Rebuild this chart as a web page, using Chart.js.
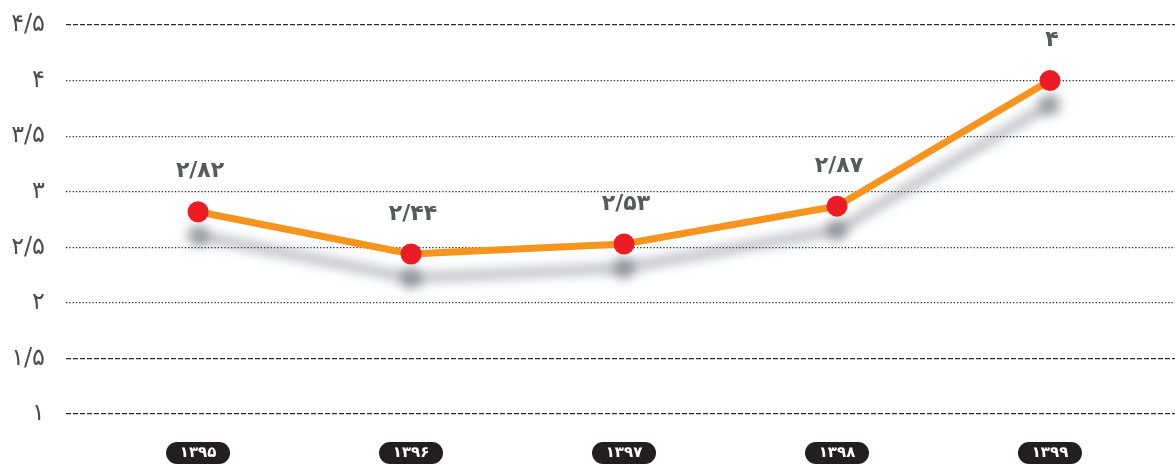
<!DOCTYPE html>
<html>
<head>
<meta charset="utf-8">
<script src="https://cdn.jsdelivr.net/npm/chart.js@4/dist/chart.umd.min.js"></script>
<style>
  html, body { margin: 0; padding: 0; background: #ffffff; overflow: hidden; }
  #wrap { width: 1175px; height: 464px; position: relative; overflow: hidden; }
  canvas { display: block; }
</style>
</head>
<body>
<div id="wrap"><canvas id="c"></canvas></div>
<script>
const years = ['۱۳۹۵', '۱۳۹۶', '۱۳۹۷', '۱۳۹۸', '۱۳۹۹'];
const values = [2.82, 2.44, 2.53, 2.87, 4];
const valueLabels = ['۲/۸۲', '۲/۴۴', '۲/۵۳', '۲/۸۷', '۴'];
const yTicks = [1, 1.5, 2, 2.5, 3, 3.5, 4, 4.5];
const yTickLabels = ['۱', '۱/۵', '۲', '۲/۵', '۳', '۳/۵', '۴', '۴/۵'];
const dashedTicks = [1, 1.5, 4.5];

const FONT = "'DejaVu Sans', sans-serif";

const shadowPlugin = {
  id: 'shadow',
  beforeDatasetDraw(chart) {
    const ctx = chart.ctx;
    ctx.save();
    ctx.shadowColor = 'rgba(80, 90, 100, 0.55)';
    ctx.shadowBlur = 12;
    ctx.shadowOffsetX = 0;
    ctx.shadowOffsetY = 24;
  },
  afterDatasetDraw(chart) {
    chart.ctx.restore();
  }
};

const pillPlugin = {
  id: 'pills',
  beforeDraw(chart) {
    const ctx = chart.ctx;
    const xs = chart.scales.x;
    const cy = chart.chartArea.bottom + 39;
    const w = 64, h = 22, r = 11;
    ctx.save();
    ctx.fillStyle = '#231f20';
    years.forEach((_, i) => {
      const cx = xs.getPixelForValue(i);
      ctx.beginPath();
      ctx.roundRect(cx - w / 2, cy - h / 2, w, h, r);
      ctx.fill();
    });
    ctx.restore();
  }
};

const labelPlugin = {
  id: 'valueLabels',
  afterDatasetsDraw(chart) {
    const ctx = chart.ctx;
    const meta = chart.getDatasetMeta(0);
    ctx.save();
    ctx.font = 'bold 22px ' + FONT;
    ctx.fillStyle = '#58595b';
    ctx.textAlign = 'center';
    ctx.textBaseline = 'middle';
    meta.data.forEach((pt, i) => {
      ctx.fillText(valueLabels[i], pt.x + 2, pt.y - 40);
    });
    ctx.restore();
  }
};

new Chart(document.getElementById('c'), {
  type: 'line',
  data: {
    datasets: [{
      data: values.map((v, i) => ({ x: i, y: v })),
      borderColor: '#f7941d',
      borderWidth: 7,
      pointBackgroundColor: '#ed1c24',
      pointBorderColor: '#ed1c24',
      pointBorderWidth: 0,
      pointRadius: 10.5,
      tension: 0,
      fill: false
    }]
  },
  options: {
    responsive: true,
    maintainAspectRatio: false,
    animation: false,
    events: [],
    layout: { autoPadding: false, padding: { top: 25, left: 0, right: 0, bottom: 0 } },
    plugins: { legend: { display: false }, tooltip: { enabled: false } },
    scales: {
      x: {
        type: 'linear',
        min: -0.62,
        max: 4.587,
        afterBuildTicks(scale) { scale.ticks = years.map((_, i) => ({ value: i })); },
        afterFit(scale) { scale.height = 50; scale.paddingLeft = 0; scale.paddingRight = 0; },
        grid: { display: false, drawTicks: false },
        border: { display: false },
        ticks: {
          autoSkip: false,
          maxRotation: 0,
          padding: 30,
          color: '#ffffff',
          font: { family: FONT, size: 15, weight: 'bold' },
          callback: (v) => years[v]
        }
      },
      y: {
        min: 1,
        max: 4.5,
        afterBuildTicks(scale) { scale.ticks = yTicks.map(v => ({ value: v })); },
        afterFit(scale) { scale.width = 66; scale.paddingTop = 0; scale.paddingBottom = 0; },
        grid: { color: '#2b2b2b', lineWidth: 1.2, drawTicks: false },
        border: {
          display: false,
          dash: (c) => dashedTicks.includes(c.tick && c.tick.value) ? [5, 2] : [1.3, 2]
        },
        ticks: {
          padding: 21,
          color: '#4d4d4f',
          font: { family: FONT, size: 24 },
          callback: (v) => yTickLabels[yTicks.indexOf(v)]
        }
      }
    }
  },
  plugins: [pillPlugin, shadowPlugin, labelPlugin]
});
</script>
</body>
</html>
